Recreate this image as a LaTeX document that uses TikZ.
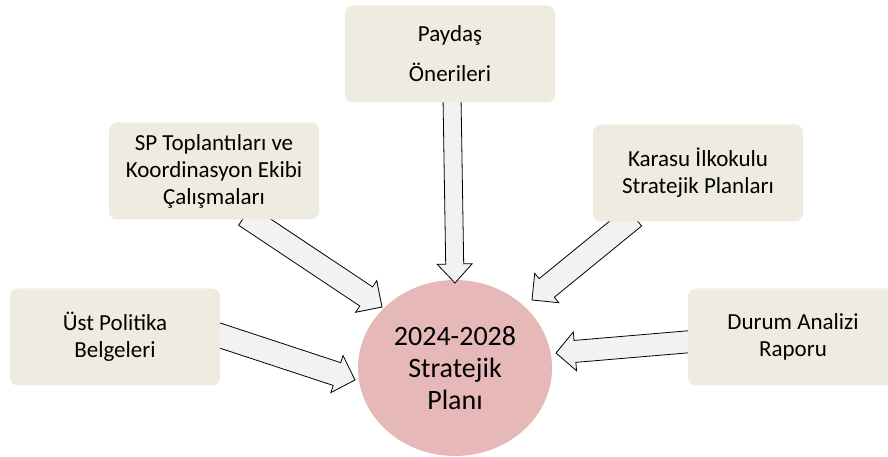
\documentclass[tikz,border=0pt]{standalone}
\usepackage{fontspec}
\setmainfont{Carlito}
\usetikzlibrary{calc,shapes.geometric}

\definecolor{boxfill}{HTML}{EEECE1}
\definecolor{planfill}{HTML}{E6B9B8}
\definecolor{arrowfill}{HTML}{F2F2F2}

\pgfdeclarelayer{foreground}
\pgfsetlayers{main,foreground}

% block arrow: from, to, half shaft width, half head width
\newcommand{\blockarrow}[4]{%
    \coordinate (hb) at ($(#2)!19pt!(#1)$);
    \filldraw[blockarrow] ($(#1)!#3!90:(#2)$) -- ($(hb)!#3!90:(#2)$) -- ($(hb)!#4!90:(#2)$)
        -- (#2) -- ($(hb)!#4!-90:(#2)$) -- ($(hb)!#3!-90:(#2)$) -- ($(#1)!#3!-90:(#2)$) -- cycle;
}

\begin{document}
\begin{tikzpicture}[
        x=1pt, y=1pt,
        infobox/.style={rectangle, rounded corners=8pt, fill=boxfill, minimum width=210pt,
            minimum height=97pt, align=center, font=\fontsize{23}{27}\selectfont},
        blockarrow/.style={fill=arrowfill, draw=black, line width=0.8pt, line join=miter},
    ]
    \useasboundingbox (0,0) rectangle (888,457);
    \clip (0,0) rectangle (888,457);

    \begin{pgfonlayer}{foreground}
        \node[infobox, font=\fontsize{23}{40}\selectfont] (paydas) at (450,403) {Paydaş\\Önerileri};
        \node[infobox] (toplanti) at (214,286) {SP Toplantıları ve\\Koordinasyon Ekibi\\Çalışmaları};
        \node[infobox] (karasu) at (698,284) {Karasu İlkokulu\\Stratejik Planları};
        \node[infobox] (ust) at (115,120) {Üst Politika\\Belgeleri};
        \node[infobox] (durum) at (793,120) {Durum Analizi\\Raporu};
    \end{pgfonlayer}

    \node[ellipse, fill=planfill, minimum width=194pt, minimum height=176pt, align=center,
        font=\fontsize{28}{32}\selectfont] (plan) at (455,89) {2024-2028\\Stratejik\\Planı};

    % arrow ends
    \coordinate (paydas-out) at ([xshift=2pt, yshift=6pt]paydas.south);
    \coordinate (paydas-in) at ($(plan.center)+(0,85)$);
    \coordinate (toplanti-out) at ([xshift=31pt, yshift=4pt]toplanti.south);
    \coordinate (toplanti-in) at ($(plan.center)+(-73,61)$);
    \coordinate (karasu-out) at ([xshift=-64pt, yshift=5pt]karasu.south);
    \coordinate (karasu-in) at ($(plan.center)+(77,68)$);
    \coordinate (ust-out) at ([xshift=-8pt, yshift=4pt]ust.east);
    \coordinate (ust-in) at ($(plan.center)+(-100,-12)$);
    \coordinate (durum-out) at ([xshift=10pt, yshift=-4pt]durum.west);
    \coordinate (durum-in) at ($(plan.center)+(101,15)$);

    \blockarrow{paydas-out}{paydas-in}{9pt}{17.5pt}
    \blockarrow{toplanti-out}{toplanti-in}{11.5pt}{19pt}
    \blockarrow{karasu-out}{karasu-in}{12pt}{19pt}
    \blockarrow{ust-out}{ust-in}{12pt}{19.5pt}
    \blockarrow{durum-out}{durum-in}{11pt}{19.5pt}
\end{tikzpicture}
\end{document}
